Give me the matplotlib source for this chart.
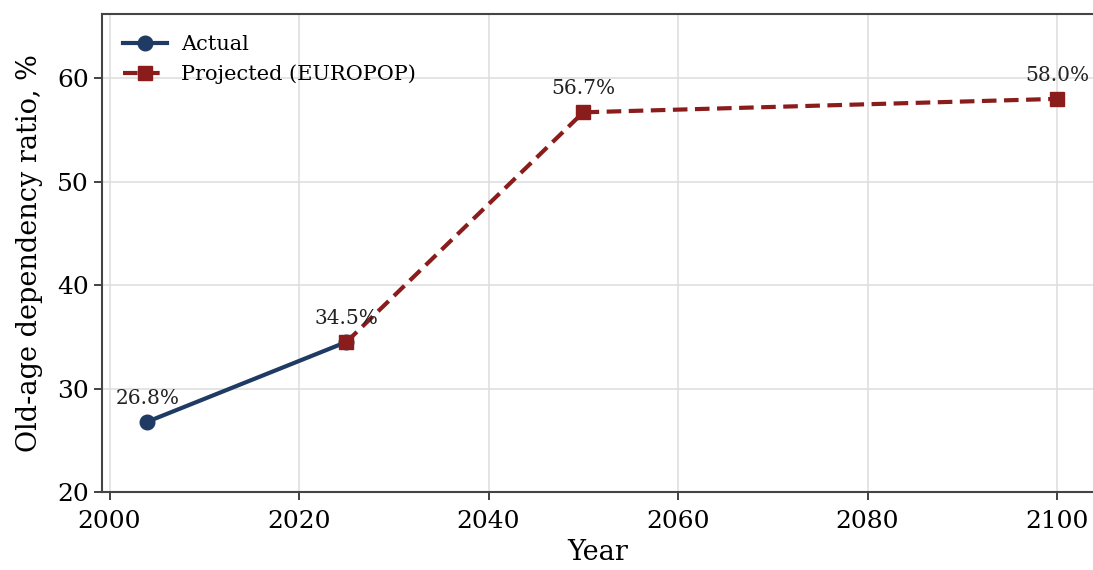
import matplotlib
matplotlib.use("Agg")
import matplotlib.pyplot as plt

# old-age dependency ratio, percent
actual_years = [2004, 2025]
actual_values = [26.8, 34.5]
projected_years = [2025, 2050, 2100]
projected_values = [34.5, 56.7, 58.0]

label_years = [2004, 2025, 2050, 2100]
label_values = [26.8, 34.5, 56.7, 58.0]

x_ticks = [2000, 2020, 2040, 2060, 2080, 2100]
y_ticks = [20, 30, 40, 50, 60]

plt.rcParams['font.family'] = 'DejaVu Serif'

blue = '#1f3b63'
red = '#8b1c1c'

fig = plt.figure(figsize=(10.93, 5.70), dpi=100)
ax = fig.add_axes([0.0933, 0.1368, 0.9067, 0.8386])

ax.plot(actual_years, actual_values, color=blue, linewidth=3, marker='o',
        markersize=10.5, label='Actual', zorder=3)
ax.plot(projected_years, projected_values, color=red, linewidth=3, linestyle='--',
        dashes=(3.5, 1.8), marker='s', markersize=10, label='Projected (EUROPOP)', zorder=3)

for yr, val in zip(label_years, label_values):
    ax.annotate(f"{val:.1f}%", (yr, val), xytext=(0, 10), textcoords='offset points',
                ha='center', va='bottom', fontsize=14.5, color='#222222')

ax.set_xlim(1999.2, 2103.8)
ax.set_ylim(20, 66.2)
ax.set_xticks(x_ticks)
ax.set_yticks(y_ticks)
ax.tick_params(labelsize=18, length=6, width=1.3, color='#333333')
ax.tick_params(axis='x', pad=7)
ax.grid(True, color='#dddddd', linewidth=1.1)
ax.set_axisbelow(True)

for side in ['left', 'bottom', 'top']:
    ax.spines[side].set_color('#444444')
    ax.spines[side].set_linewidth(1.5)
ax.spines['right'].set_visible(False)

ax.set_xlabel('Year', fontsize=19.5, labelpad=4)
ax.set_ylabel('Old-age dependency ratio, %', fontsize=19.5, labelpad=10)

ax.legend(loc='upper left', frameon=False, fontsize=15, handlelength=2.1,
          handletextpad=0.7, borderaxespad=0.6)

fig.savefig('out.png', dpi=100)
